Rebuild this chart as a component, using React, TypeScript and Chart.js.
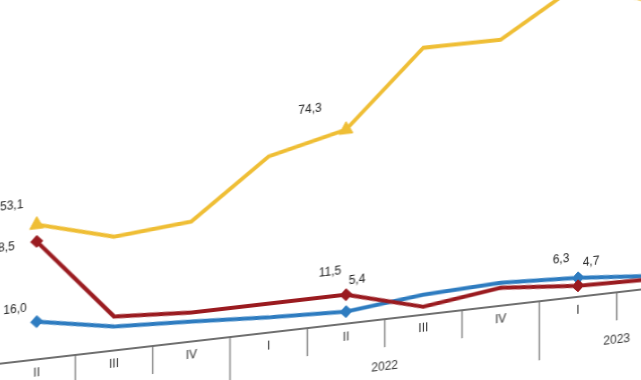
import React, { useEffect, useRef } from "react";
import { Chart, registerables } from "chart.js";

Chart.register(...registerables);

// ---- data ----
const quarters = ["II", "III", "IV", "I", "II", "III", "IV", "I", "II"];
const years = ["2021", "2021", "2021", "2022", "2022", "2022", "2022", "2023", "2023"];

const yellowValues = [39.2, 33.1, 34.9, 51.2, 56.4, 77.6, 77.3, 90.7, 83.1];
const redValues = [34.3, 9.9, 8.4, 8.4, 8.4, 2.3, 5.2, 3.2, 2.6];
const blueValues = [11.0, 7.0, 5.8, 4.4, 3.5, 5.8, 6.7, 5.5, 3.5];

const yellowLabels = ["53,1", null, null, null, "74,3", null, null, null, null];
const redLabels = ["8,5", null, null, null, "11,5", null, null, "6,3", null];
const blueLabels = ["16,0", null, null, null, "5,4", null, null, "4,7", null];

const yellowMarkers = [true, false, false, false, true, false, false, false, true];
const redMarkers = [true, false, false, false, true, false, false, true, false];
const blueMarkers = [true, false, false, false, true, false, false, true, false];

// ---- styles ----
const YELLOW = "#EFBE35";
const RED = "#9A1B20";
const BLUE = "#2E7CC0";
const FONT = "'Liberation Sans Narrow', 'Liberation Sans', Arial, sans-serif";

// label placement (dx, dy offsets from the point, text alignment)
const labelPlacement: Record<string, { dx: number; dy: number; align: CanvasTextAlign }> = {
  "0-0": { dx: -25, dy: -21, align: "center" },
  "0-4": { dx: -36, dy: -24, align: "center" },
  "1-0": { dx: -22, dy: 3, align: "right" },
  "1-4": { dx: -16, dy: -24, align: "center" },
  "1-7": { dx: -17, dy: -28, align: "center" },
  "2-0": { dx: -10, dy: -14, align: "right" },
  "2-4": { dx: 11, dy: -30, align: "center" },
  "2-7": { dx: 13, dy: -14, align: "center" },
};

const allLabels = [yellowLabels, redLabels, blueLabels];

const decorPlugin = {
  id: "decor",
  afterDraw(chart: any) {
    const { ctx } = chart;
    const xs = chart.scales.x;
    const n = quarters.length;
    const px = (i: number) => xs.getPixelForValue(i);
    const half = (px(1) - px(0)) / 2;
    const top = xs.top;

    ctx.save();
    // separators
    ctx.strokeStyle = "#6f6f6f";
    ctx.lineWidth = 1.2;
    for (let i = 0; i <= n; i++) {
      const bx = i < n ? px(i) - half : px(n - 1) + half;
      const yearBoundary = i > 0 && i < n && years[i] !== years[i - 1];
      const len = yearBoundary ? 59 : 28;
      ctx.beginPath();
      ctx.moveTo(bx, top);
      ctx.lineTo(bx, top + len);
      ctx.stroke();
    }
    // year labels
    ctx.fillStyle = "#333";
    ctx.font = `12px ${FONT}`;
    ctx.textAlign = "center";
    ctx.textBaseline = "middle";
    const groups: Record<string, number[]> = {};
    years.forEach((y, i) => {
      (groups[y] = groups[y] || []).push(i);
    });
    Object.keys(groups).forEach((y) => {
      const idx = groups[y];
      const cx = idx.reduce((s, i) => s + px(i), 0) / idx.length;
      ctx.fillText(y, cx, top + 48);
    });

    // data labels
    ctx.fillStyle = "#222";
    ctx.font = `12px ${FONT}`;
    allLabels.forEach((labels, d) => {
      const meta = chart.getDatasetMeta(d);
      labels.forEach((txt, i) => {
        if (!txt) return;
        const pt = meta.data[i];
        const place = labelPlacement[`${d}-${i}`] || { dx: 0, dy: -14, align: "center" };
        ctx.textAlign = place.align;
        ctx.fillText(txt, pt.x + place.dx, pt.y + place.dy);
      });
    });
    ctx.restore();
  },
};

export default function App() {
  const ref = useRef<HTMLCanvasElement>(null);

  useEffect(() => {
    const chart = new Chart(ref.current as HTMLCanvasElement, {
      type: "line",
      data: {
        labels: quarters,
        datasets: [
          {
            label: "A",
            data: yellowValues,
            borderColor: YELLOW,
            backgroundColor: YELLOW,
            borderWidth: 4,
            tension: 0,
            pointStyle: "triangle",
            pointRadius: yellowMarkers.map((m) => (m ? 8 : 0)),
            pointBorderWidth: 1,
          },
          {
            label: "B",
            data: redValues,
            borderColor: RED,
            backgroundColor: RED,
            borderWidth: 4,
            tension: 0,
            pointStyle: "rectRot",
            pointRadius: redMarkers.map((m) => (m ? 6 : 0)),
            pointBorderWidth: 1,
          },
          {
            label: "C",
            data: blueValues,
            borderColor: BLUE,
            backgroundColor: BLUE,
            borderWidth: 4,
            tension: 0,
            pointStyle: "rectRot",
            pointRadius: blueMarkers.map((m) => (m ? 6 : 0)),
            pointBorderWidth: 1,
          },
        ],
      },
      options: {
        responsive: false,
        animation: false,
        layout: { padding: { left: 18, right: 10, top: 20, bottom: 16 } },
        plugins: { legend: { display: false }, tooltip: { enabled: false } },
        scales: {
          x: {
            offset: true,
            grid: { display: false, drawTicks: false },
            border: { display: true, color: "#6f6f6f", width: 2 },
            ticks: {
              color: "#333",
              font: { family: FONT, size: 12 },
              padding: 6,
              maxRotation: 0,
              autoSkip: false,
            },
            afterFit: (s: any) => {
              s.height = 60;
            },
          },
          y: { display: false, min: 0, max: 100 },
        },
      },
      plugins: [decorPlugin],
    });
    return () => chart.destroy();
  }, []);

  return (
    <div
      style={{
        position: "fixed",
        left: 0,
        top: 0,
        width: 641,
        height: 380,
        overflow: "hidden",
        background: "#fff",
      }}
    >
      <div
        style={{
          position: "absolute",
          left: -20,
          top: 2.3,
          transform: "skewY(-6.6deg)",
          transformOrigin: "0 0",
        }}
      >
        <canvas
          ref={ref}
          width={724}
          height={440}
          style={{ display: "block", width: 724, height: 440 }}
        />
      </div>
    </div>
  );
}
